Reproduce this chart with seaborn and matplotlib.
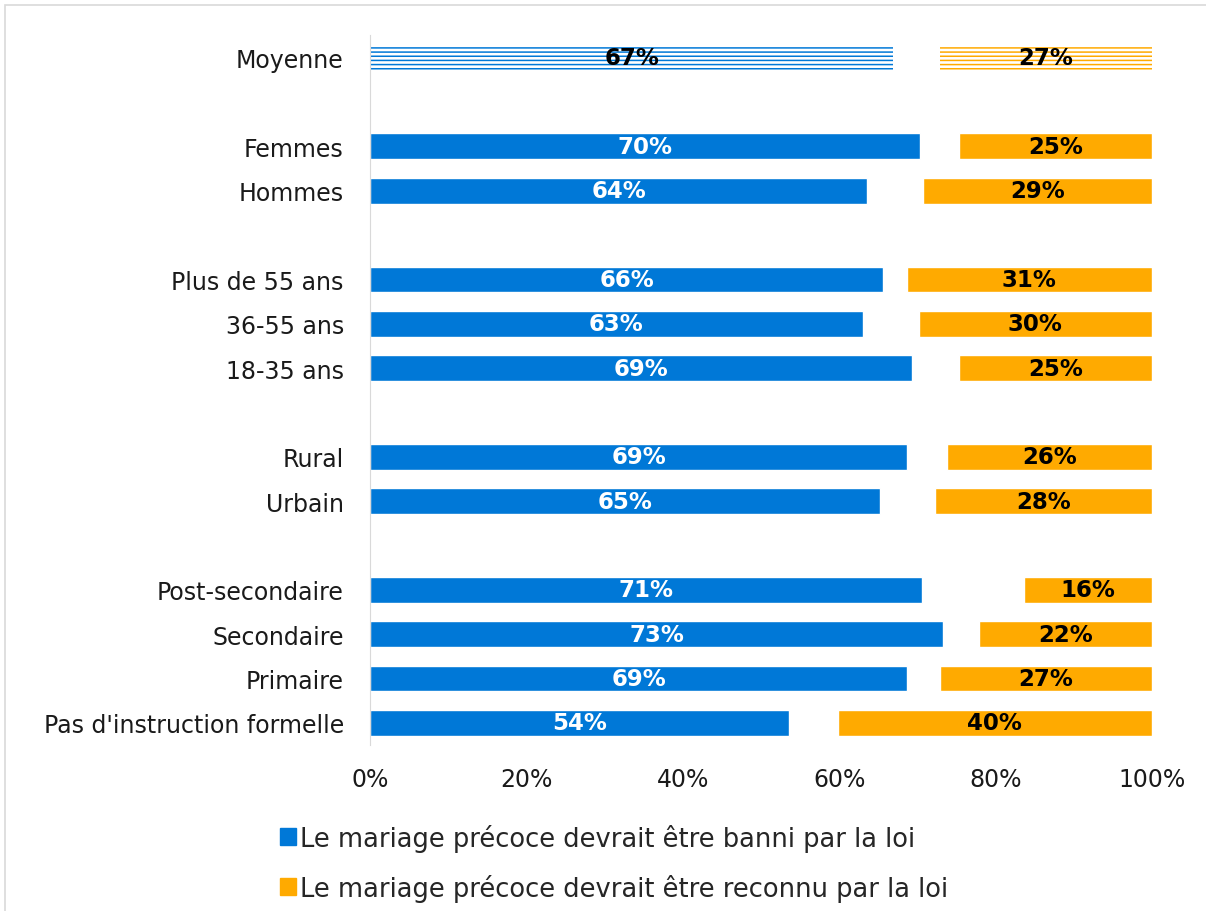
import pandas as pd
import matplotlib.pyplot as plt
import matplotlib.patches as mpatches
import seaborn as sns

# Data (% of respondents)
categories = ["Moyenne", "Femmes", "Hommes", "Plus de 55 ans", "36-55 ans", "18-35 ans",
              "Rural", "Urbain", "Post-secondaire", "Secondaire", "Primaire",
              "Pas d'instruction formelle"]
banni = [66.9, 70.3, 63.6, 65.6, 63.0, 69.3, 68.7, 65.2, 70.6, 73.3, 68.7, 53.6]
reconnu = [27.1, 24.7, 29.3, 31.3, 29.8, 24.6, 26.2, 27.7, 16.4, 22.1, 27.1, 40.2]
x_ticks = [0, 20, 40, 60, 80, 100]
legend_labels = ["Le mariage précoce devrait être banni par la loi",
                 "Le mariage précoce devrait être reconnu par la loi"]

# blank slots separate the groups
order = ["Moyenne", " ", "Femmes", "Hommes", "  ", "Plus de 55 ans", "36-55 ans", "18-35 ans",
         "   ", "Rural", "Urbain", "    ", "Post-secondaire", "Secondaire", "Primaire",
         "Pas d'instruction formelle"]

blue = "#0078d7"
orange = "#ffaa00"

df = pd.DataFrame({"cat": categories, "banni": banni, "reconnu": reconnu})
df["start"] = 100 - df["reconnu"]

sns.set_style("white")
plt.rcParams["font.family"] = ["DejaVu Sans"]
plt.rcParams["hatch.linewidth"] = 1.1

fig = plt.figure(figsize=(12.06, 9.12), dpi=100)
ax = fig.add_axes([0.307, 0.182, 0.648, 0.778])

sns.barplot(data=df, x="banni", y="cat", order=order, color=blue, width=0.58,
            saturation=1, orient="h", ax=ax)

pos = [order.index(c) for c in df["cat"]]
ax.barh(pos, df["reconnu"], left=df["start"], height=0.58, color=orange)

# hatched "Moyenne" row
for p in ax.patches:
    yc = p.get_y() + p.get_height() / 2
    if abs(yc - 0) < 0.01:
        col = p.get_facecolor()
        p.set_facecolor("white")
        p.set_edgecolor(col)
        p.set_hatch("----")
        p.set_linewidth(0)

for i, row in df.iterrows():
    y = pos[i]
    moy = row["cat"] == "Moyenne"
    ax.text(row["banni"] / 2, y, f"{row['banni']:.0f}%", ha="center", va="center",
            fontsize=16.5, fontweight="bold", color="black" if moy else "white")
    ax.text(100 - row["reconnu"] / 2, y, f"{row['reconnu']:.0f}%", ha="center", va="center",
            fontsize=16.5, fontweight="bold", color="black")

ax.set_xlim(0, 100)
ax.set_ylim(len(order) - 0.5, -0.5)
ax.set_xticks(x_ticks)
ax.set_xticklabels([f"{t}%" for t in x_ticks])
ax.tick_params(axis="both", length=0, labelsize=17, colors="#1a1a1a")
ax.tick_params(axis="x", pad=16)
ax.tick_params(axis="y", pad=19)
ax.set_xlabel("")
ax.set_ylabel("")
for s in ["top", "right", "bottom"]:
    ax.spines[s].set_visible(False)
ax.spines["left"].set_color("#d9d9d9")

handles = [mpatches.Patch(color=blue), mpatches.Patch(color=orange)]
fig.legend(handles, legend_labels, loc="upper left", bbox_to_anchor=(0.224, 0.107),
           frameon=False, fontsize=18.5, handlelength=0.6, handleheight=0.6,
           handletextpad=0.15, labelspacing=0.85, borderaxespad=0)

# light frame round the chart
fig.patches.append(mpatches.Rectangle((0.004, -0.01), 1.1, 1.003,
                                      transform=fig.transFigure, fill=False,
                                      edgecolor="#d9d9d9", linewidth=1.2))

fig.savefig("out.png", dpi=100)
